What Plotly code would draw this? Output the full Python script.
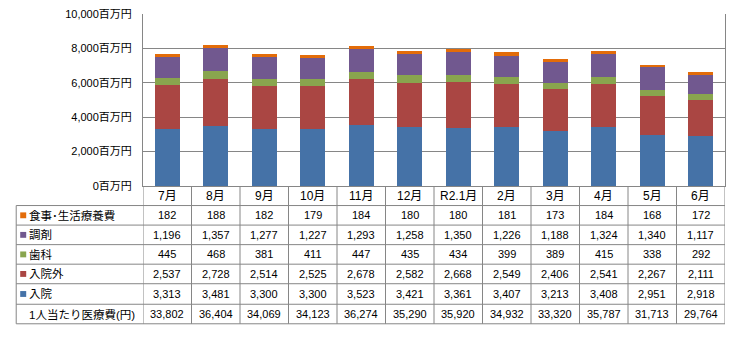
import plotly.graph_objects as go

months = ["7月", "8月", "9月", "10月", "11月", "12月", "R2.1月", "2月", "3月", "4月", "5月", "6月"]
nyuin = [3313, 3481, 3300, 3300, 3523, 3421, 3361, 3407, 3213, 3408, 2951, 2918]
nyuingai = [2537, 2728, 2514, 2525, 2678, 2582, 2668, 2549, 2406, 2541, 2267, 2111]
shika = [445, 468, 381, 411, 447, 435, 434, 399, 389, 415, 338, 292]
chozai = [1196, 1357, 1277, 1227, 1293, 1258, 1350, 1226, 1188, 1324, 1340, 1117]
shokuji = [182, 188, 182, 179, 184, 180, 180, 181, 173, 184, 168, 172]
per_capita = [33802, 36404, 34069, 34123, 36274, 35290, 35920, 34932, 33320, 35787, 31713, 29764]
y_ticks = [0, 2000, 4000, 6000, 8000, 10000]
y_tick_labels = ["0百万円", "2,000百万円", "4,000百万円", "6,000百万円", "8,000百万円", "10,000百万円"]

series = [
    ("入院", nyuin, "#4572A7"),
    ("入院外", nyuingai, "#AA4643"),
    ("歯科", shika, "#89A54E"),
    ("調剤", chozai, "#71588F"),
    ("食事･生活療養費", shokuji, "#E36C09"),
]
# table rows, top to bottom
table_rows = [
    ("食事･生活療養費", shokuji, "#E36C09"),
    ("調剤", chozai, "#71588F"),
    ("歯科", shika, "#89A54E"),
    ("入院外", nyuingai, "#AA4643"),
    ("入院", nyuin, "#4572A7"),
    ("1人当たり医療費(円)", per_capita, None),
]

W, H = 734, 341
L, R, T, B = 143, 726, 10, 186
PH = B - T
PW = R - L

def py(p):
    return (B - p) / PH

def px(p):
    return (p - L) / PW

FONT = "Liberation Sans, Noto Sans CJK JP, sans-serif"
GRID = "#868686"

fig = go.Figure()
for name, vals, col in series:
    fig.add_trace(go.Bar(x=months, y=vals, name=name, marker=dict(color=col, line=dict(width=0))))

shapes = []
annotations = []
row_lines = [186, 206, 226, 246, 266, 286, 307, 327]
for yl in row_lines[1:]:
    shapes.append(dict(type="line", xref="paper", yref="paper", x0=px(16), x1=1, y0=py(yl), y1=py(yl),
                       line=dict(color=GRID, width=1)))
shapes.append(dict(type="line", xref="paper", yref="paper", x0=px(16), x1=px(16), y0=py(206), y1=py(327),
                   line=dict(color=GRID, width=1)))
for i in range(len(months) + 1):
    shapes.append(dict(type="line", xref="x", yref="paper", x0=i - 0.5, x1=i - 0.5, y0=py(186), y1=py(327),
                       line=dict(color=GRID, width=1)))

for m in months:
    annotations.append(dict(x=m, xref="x", y=py(196), yref="paper", text=m, showarrow=False,
                            font=dict(family=FONT, size=12, color="#000"), xanchor="center", yanchor="middle"))

for r, (label, vals, col) in enumerate(table_rows):
    top, bot = row_lines[r + 1], row_lines[r + 2]
    cy = (top + bot) / 2
    if col:
        shapes.append(dict(type="rect", xref="paper", yref="paper", x0=px(20), x1=px(26),
                           y0=py(cy - 3), y1=py(cy + 3), fillcolor=col, line=dict(width=0)))
    annotations.append(dict(x=px(27), xref="paper", y=py(cy), yref="paper", text=label, showarrow=False,
                            font=dict(family=FONT, size=11.5, color="#000"), xanchor="left", yanchor="middle"))
    for m, v in zip(months, vals):
        annotations.append(dict(x=m, xref="x", y=py(cy), yref="paper", text=f"{v:,}", showarrow=False,
                                font=dict(family=FONT, size=11, color="#000"), xanchor="center", yanchor="middle"))

fig.update_layout(
    width=W, height=H,
    margin=dict(l=L, r=W - R, t=T, b=H - B, pad=0),
    barmode="stack", bargap=0.485,
    showlegend=False,
    plot_bgcolor="white", paper_bgcolor="white",
    shapes=shapes, annotations=annotations,
    xaxis=dict(showticklabels=False, showgrid=False, showline=True, linecolor=GRID, linewidth=1,
               range=[-0.5, len(months) - 0.5], fixedrange=True),
    yaxis=dict(range=[0, 10000], tickvals=y_ticks, ticktext=y_tick_labels,
               showgrid=True, gridcolor=GRID, gridwidth=1, showline=True, linecolor=GRID, linewidth=1,
               mirror=True, zeroline=False, ticks="", ticklabelstandoff=8,
               tickfont=dict(family=FONT, size=11, color="#000")),
)

fig.write_html("out.html")
